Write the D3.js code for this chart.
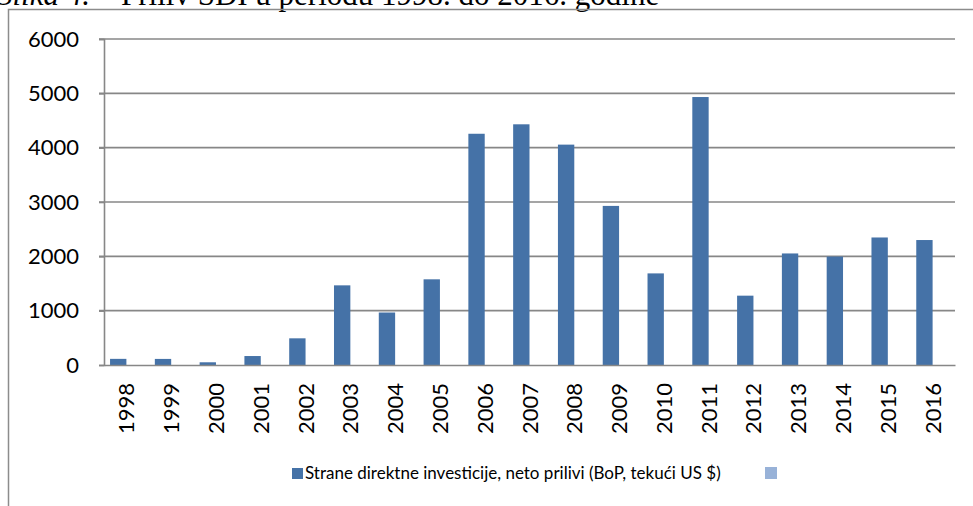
<!DOCTYPE html>
<html>
<head>
<meta charset="utf-8">
<script src="https://cdn.jsdelivr.net/npm/d3@7"></script>
<style>
  html, body { margin: 0; padding: 0; background: #fff; overflow: hidden; }
  svg { display: block; }
</style>
</head>
<body>
<svg id="chart" width="973" height="506"></svg>
<script>
// FDI net inflows, 1998-2016
const years = ['1998', '1999', '2000', '2001', '2002', '2003', '2004', '2005', '2006', '2007',
  '2008', '2009', '2010', '2011', '2012', '2013', '2014', '2015', '2016'];
const fdi = [113, 112, 50, 165, 491, 1466, 966, 1577, 4256, 4430,
  4056, 2928, 1686, 4932, 1276, 2053, 1996, 2347, 2300];
const yTicks = [0, 1000, 2000, 3000, 4000, 5000, 6000];
const seriesNames = ['Strane direktne investicije, neto prilivi (BoP, tekući US $)', ''];
const seriesColors = ['#4572a7', '#98b2d8'];

const svg = d3.select('#chart');
const margin = { left: 104, right: 18, top: 39, bottom: 141 };
const width = 973, height = 506;

// caption of the figure, cut off at the top of the picture
const cap = svg.append('text')
  .attr('x', -3).attr('y', 5)
  .style('font-family', '"Liberation Serif", "Times New Roman", serif')
  .style('font-size', '31px')
  .attr('fill', '#000');
cap.append('tspan').style('font-style', 'italic').text('Slika 4.');
cap.append('tspan').text(' – Priliv SDI u periodu 1998. do 2016. godine');

// chart frame
svg.append('path')
  .attr('d', `M8.5,${height + 2}V9.5H${width + 2}`)
  .attr('fill', 'none').attr('stroke', '#8c8c8c').attr('stroke-width', 1.5);

const x = d3.scaleBand().domain(years).range([margin.left, width - margin.right]);
const gap = x.bandwidth() * 0.27;
const x1 = d3.scaleBand().domain([0, 1]).range([gap / 2, x.bandwidth() - gap / 2]);
const y = d3.scaleLinear().domain([0, 6000]).range([height - margin.bottom, margin.top]);

const font = 'Lato, "Open Sans", sans-serif';

// gridlines
svg.append('g')
  .selectAll('line')
  .data(yTicks.filter(d => d > 0))
  .join('line')
  .attr('x1', margin.left - 5).attr('x2', width - margin.right)
  .attr('y1', d => y(d)).attr('y2', d => y(d))
  .attr('stroke', '#878787').attr('stroke-width', 1.6);

// bars
svg.append('g')
  .selectAll('rect')
  .data(fdi.map((v, i) => ({ year: years[i], v })))
  .join('rect')
  .attr('x', d => x(d.year) + x1(0))
  .attr('width', x1.bandwidth())
  .attr('y', d => y(d.v))
  .attr('height', d => y(0) - y(d.v))
  .attr('fill', seriesColors[0]);

// y axis
const yAxis = svg.append('g')
  .attr('transform', `translate(${margin.left},0)`)
  .call(d3.axisLeft(y).tickValues(yTicks).tickSize(5).tickPadding(20).tickFormat(d3.format('d')));
yAxis.select('.domain').attr('stroke', '#878787').attr('stroke-width', 1.6);
yAxis.selectAll('.tick line').attr('stroke', '#878787').attr('stroke-width', 1.6);
yAxis.selectAll('.tick text')
  .style('font-family', font).style('font-size', '22px').attr('fill', '#000');

// x axis
const xAxis = svg.append('g')
  .attr('transform', `translate(0,${y(0)})`)
  .call(d3.axisBottom(x).tickSize(0).tickPadding(0));
xAxis.select('.domain').attr('stroke', '#878787').attr('stroke-width', 1.6);
xAxis.selectAll('.tick text')
  .style('font-family', font).style('font-size', '22px').attr('fill', '#000')
  .attr('text-anchor', 'end')
  .attr('dy', null)
  .attr('transform', 'translate(8,18) rotate(-90)');

// legend
const legend = svg.append('g').attr('transform', 'translate(292,467)');
legend.append('text')
  .attr('x', 13).attr('y', 12)
  .style('font-family', font).style('font-size', '17px').attr('fill', '#000')
  .text(seriesNames[0]);
legend.append('rect').attr('x', 0).attr('y', 1).attr('width', 11).attr('height', 11)
  .attr('fill', seriesColors[0]);
legend.append('rect').attr('x', 473).attr('y', 0).attr('width', 12).attr('height', 12)
  .attr('fill', seriesColors[1]);
</script>
</body>
</html>
